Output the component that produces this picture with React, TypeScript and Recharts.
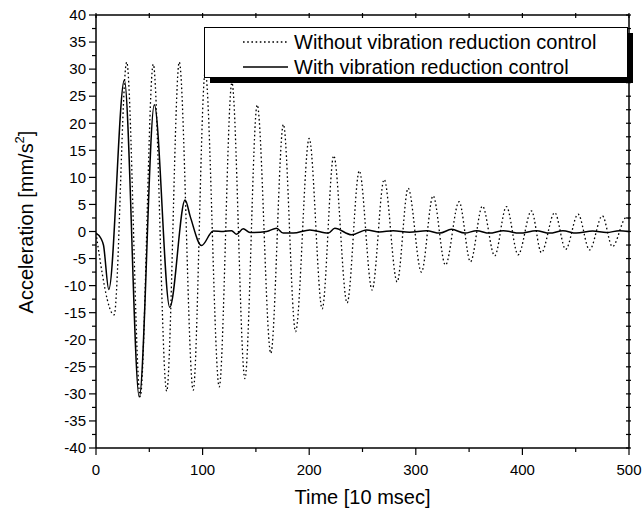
import React from "react";
import { LineChart, Line, XAxis, YAxis } from "recharts";

// time [10 msec] / acceleration [mm/s^2] (peaks & troughs)
const noControlTime = [
  0, 17, 28.8, 41.5, 53.7, 66.3, 78.1, 91.2, 102.5, 115.6, 127.5, 139.7, 151.2, 164, 175.8,
  187.2, 200, 212.2, 223, 235.6, 247, 259, 270.3, 282.5, 292.8, 305.3, 316.2, 327.8, 340.6,
  351.3, 362.5, 374, 385, 396, 408.5, 417.8, 430.3, 440.6, 452.2, 463, 475, 484.4, 497.5, 500,
];
const noControlAccel = [
  -0.3, -15.4, 31.3, -30.5, 30.9, -29.5, 31.3, -29.3, 29.5, -28.7, 27.5, -27.2, 23.4, -22.5, 19.8,
  -18.5, 17.2, -14.3, 14.0, -13.2, 11.2, -10.8, 9.6, -9.3, 8.0, -7.5, 6.6, -6.2, 5.5,
  -5.6, 4.7, -4.5, 4.6, -4.3, 3.8, -3.9, 3.5, -3.3, 3.2, -3.4, 2.9, -2.8, 2.6, 2.4,
];

const controlTime = [
  0, 4.7, 7, 12, 26.6, 40.6, 54.7, 69.2, 83.6, 88.5, 99, 110, 119.4, 127.2, 131.9, 138.1,
  144.4, 160, 169.4, 175.6, 185, 200.6, 217.8, 224, 239.7, 253.8, 266, 278.7, 294, 310,
  322.5, 333.5, 346, 357, 369, 382, 397.5, 413, 425.6, 438, 450.6, 466, 478.8, 491, 500,
];
const controlAccel = [
  -0.3, -1.3, -2.5, -10.7, 28.0, -30.6, 23.4, -14.0, 5.8, 2.7, -2.6, 0.1, 0.0, 0.15, -0.5, 0.5,
  -0.2, 0.0, 0.6, -0.3, -0.3, 0.3, -0.3, 0.6, -0.6, 0.3, -0.1, 0.15, -0.15, 0.15,
  -0.3, 0.4, -0.3, 0.15, -0.3, 0.15, -0.3, 0.15, -0.3, 0.15, -0.3, 0.1, -0.2, 0.15, 0.0,
];

const xTicks = [0, 50, 100, 150, 200, 250, 300, 350, 400, 450, 500];
const yTicks = [
  -40, -37.5, -35, -32.5, -30, -27.5, -25, -22.5, -20, -17.5, -15, -12.5, -10, -7.5, -5, -2.5,
  0, 2.5, 5, 7.5, 10, 12.5, 15, 17.5, 20, 22.5, 25, 27.5, 30, 32.5, 35, 37.5, 40,
];

const seriesNames = ["Without vibration reduction control", "With vibration reduction control"];

const noControl = noControlTime.map((t, i) => ({ t, a: noControlAccel[i] }));
const control = controlTime.map((t, i) => ({ t, a: controlAccel[i] }));

const FONT = "Arial, 'Liberation Sans', sans-serif";
const DOTS = "1.6 2.6";
const AXIS_LINE = { stroke: "#000", strokeWidth: 1.5 };

function LeftTick({ x, y, payload }: any) {
  const major = payload.value % 5 === 0;
  return (
    <g>
      <line x1={x} x2={x - (major ? 7 : 4)} y1={y} y2={y} stroke="#000" strokeWidth={1.2} />
      {major && (
        <text x={x - 10} y={y + 5.3} textAnchor="end" fontSize={15} fontFamily={FONT} fill="#000">
          {payload.value}
        </text>
      )}
    </g>
  );
}

function BottomTick({ x, y, payload }: any) {
  const major = payload.value % 100 === 0;
  return (
    <g>
      <line x1={x} x2={x} y1={y} y2={y + (major ? 7 : 4)} stroke="#000" strokeWidth={1.2} />
      {major && (
        <text x={x} y={y + 27} textAnchor="middle" fontSize={15} fontFamily={FONT} fill="#000">
          {payload.value}
        </text>
      )}
    </g>
  );
}

function TopTick({ x, y }: any) {
  return <line x1={x} x2={x} y1={y - 2} y2={y + 3} stroke="#000" strokeWidth={1.2} />;
}

function RightTick({ x, y }: any) {
  return <line x1={x - 3} x2={x + 2} y1={y} y2={y} stroke="#000" strokeWidth={1.2} />;
}

function YTitle({ viewBox }: any) {
  const cx = viewBox.x + viewBox.width - 63;
  const cy = 222;
  return (
    <text
      x={cx}
      y={cy}
      transform={`rotate(-90 ${cx} ${cy})`}
      textAnchor="middle"
      fontSize={20}
      fontFamily={FONT}
      fill="#000"
    >
      Acceleration [mm/s
      <tspan dy={-9} fontSize={13}>2</tspan>
      <tspan dy={9}>]</tspan>
    </text>
  );
}

function LegendBox() {
  return (
    <svg
      width={440}
      height={64}
      style={{ position: "absolute", left: 204, top: 27, pointerEvents: "none" }}
    >
      <rect x={6} y={6} width={423} height={50} fill="#000" />
      <rect x={0.5} y={0.5} width={423} height={50} fill="#fff" stroke="#000" strokeWidth={1} />
      <line x1={39} x2={84} y1={15} y2={15} stroke="#000" strokeWidth={1.3} strokeDasharray={DOTS} />
      <line x1={39} x2={84} y1={40} y2={40} stroke="#000" strokeWidth={1.3} />
      <text x={90} y={22} fontSize={20} fontFamily={FONT} fill="#000">{seriesNames[0]}</text>
      <text x={90} y={47} fontSize={20} fontFamily={FONT} fill="#000">{seriesNames[1]}</text>
    </svg>
  );
}

export default function App() {
  return (
    <div style={{ position: "absolute", left: 0, top: 0, width: 644, height: 514, background: "#fff" }}>
      <LineChart width={644} height={514} margin={{ top: 14, right: 14, bottom: 65, left: 95 }}>
        <XAxis
          xAxisId="bottom"
          type="number"
          dataKey="t"
          domain={[0, 500]}
          ticks={xTicks}
          interval={0}
          height={1}
          tickSize={0}
          tickMargin={0}
          tickLine={false}
          tick={<BottomTick />}
          axisLine={AXIS_LINE}
          allowDataOverflow
          label={{ value: "Time [10 msec]", position: "bottom", offset: 41, fontSize: 20, fill: "#000", fontFamily: FONT }}
        />
        <XAxis
          xAxisId="top"
          orientation="top"
          type="number"
          dataKey="t"
          domain={[0, 500]}
          ticks={xTicks}
          interval={0}
          height={1}
          tickSize={0}
          tickMargin={0}
          tickLine={false}
          tick={<TopTick />}
          axisLine={AXIS_LINE}
          allowDataOverflow
        />
        <YAxis
          yAxisId="left"
          type="number"
          domain={[-40, 40]}
          ticks={yTicks}
          interval={0}
          width={1}
          tickSize={0}
          tickMargin={0}
          tickLine={false}
          tick={<LeftTick />}
          axisLine={AXIS_LINE}
          allowDataOverflow
          label={<YTitle />}
        />
        <YAxis
          yAxisId="right"
          orientation="right"
          type="number"
          domain={[-40, 40]}
          ticks={yTicks}
          interval={0}
          width={1}
          tickSize={0}
          tickMargin={0}
          tickLine={false}
          tick={<RightTick />}
          axisLine={AXIS_LINE}
          allowDataOverflow
        />
        <Line
          xAxisId="bottom"
          yAxisId="left"
          data={noControl}
          dataKey="a"
          name={seriesNames[0]}
          type="monotone"
          stroke="#000"
          strokeWidth={1.3}
          strokeDasharray={DOTS}
          dot={false}
          activeDot={false}
          isAnimationActive={false}
        />
        <Line
          xAxisId="bottom"
          yAxisId="left"
          data={control}
          dataKey="a"
          name={seriesNames[1]}
          type="monotone"
          stroke="#000"
          strokeWidth={1.5}
          dot={false}
          activeDot={false}
          isAnimationActive={false}
        />
      </LineChart>
      <LegendBox />
    </div>
  );
}
